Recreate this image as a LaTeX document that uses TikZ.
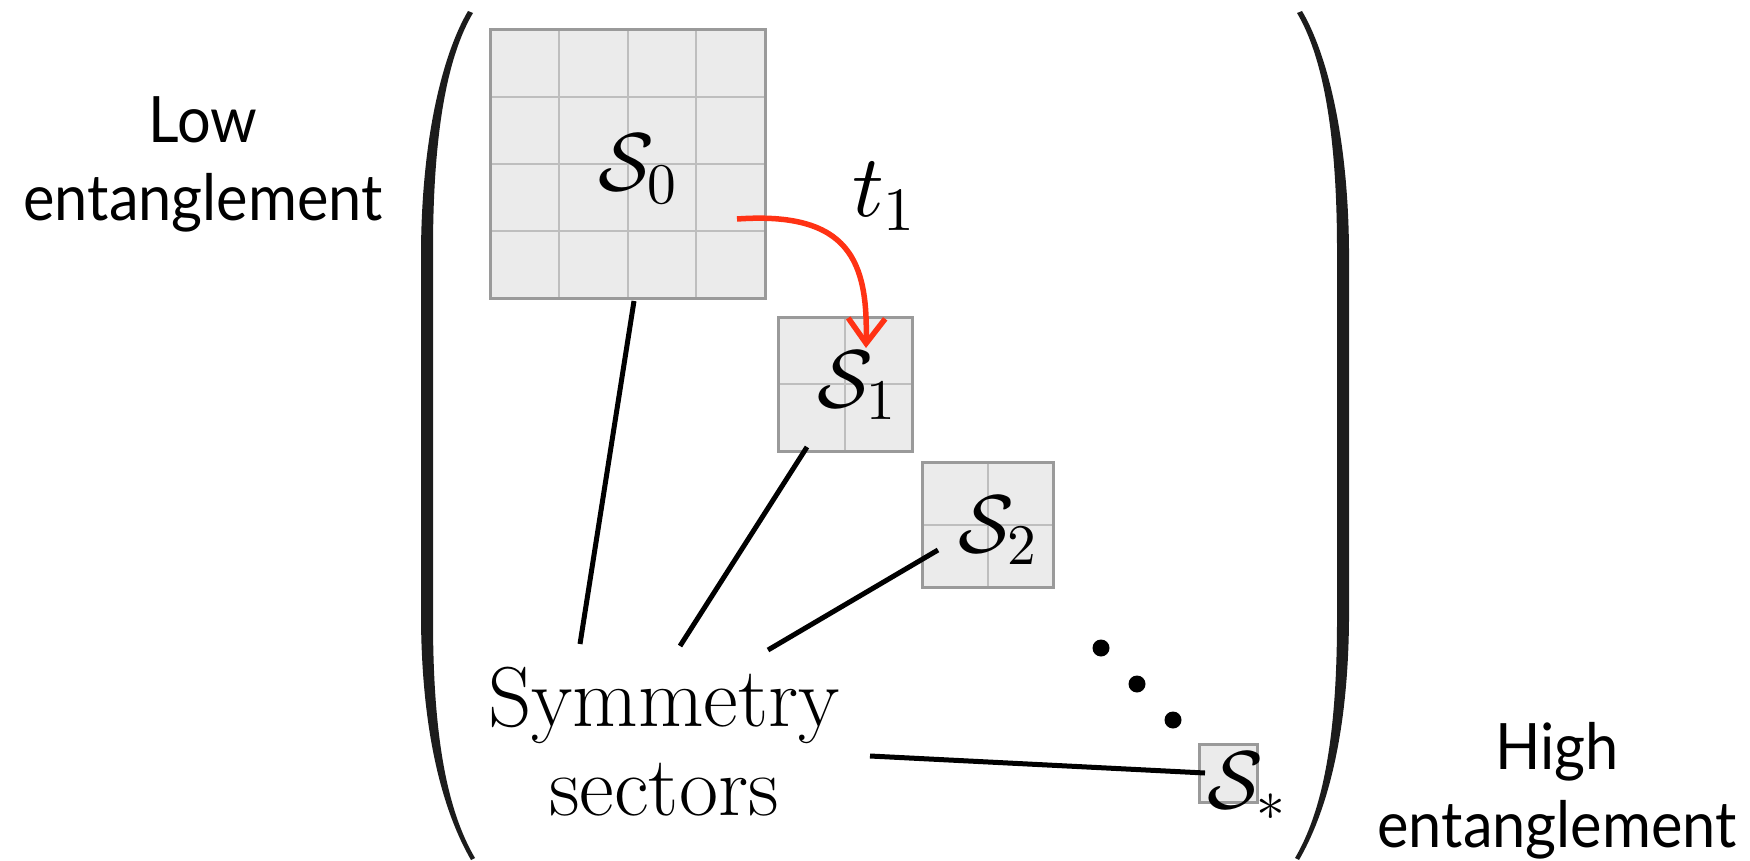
\documentclass[tikz,border=0pt]{standalone}
\usepackage{fontspec}
\DeclareFontFamily{OML}{cmm}{\skewchar\font'177}
\DeclareFontShape{OML}{cmm}{m}{it}{<->cmmi10}{}
\DeclareFontFamily{OMS}{cmsy}{\skewchar\font'60}
\DeclareFontShape{OMS}{cmsy}{m}{n}{<->cmsy10}{}
\DeclareFontFamily{OT1}{cmr}{\hyphenchar\font45}
\DeclareFontShape{OT1}{cmr}{m}{n}{<->cmr10}{}
\DeclareFontFamily{OMX}{cmex}{}
\DeclareFontShape{OMX}{cmex}{m}{n}{<->cmex10}{}
\newfontfamily\lato[FakeStretch=0.93]{Lato}
\usetikzlibrary{arrows.meta,calc}
\definecolor{boxfill}{HTML}{EBEBEB}
\definecolor{boxedge}{HTML}{9A9A9A}
\definecolor{gridc}{HTML}{BEBEBE}
\definecolor{arrowred}{HTML}{FF3214}
\definecolor{parcol}{HTML}{1C1C1C}
\begin{document}
\begin{tikzpicture}[x=1pt,y=-1pt,
  sector/.style={rectangle, fill=boxfill, inner sep=0pt, outer sep=0pt},
  edge/.style={draw=boxedge, line width=3pt},
  gridline/.style={draw=gridc, line width=2pt},
  conn/.style={line width=5pt, black},
  flow/.style={line width=5.5pt, arrowred, -{Straight Barb[length=25pt,width=37pt]}},
  mlbl/.style={inner sep=0pt, anchor=base west, font=\fontsize{82}{82}\selectfont},
  side/.style={align=center, inner sep=0pt, font=\lato\fontsize{64}{78}\selectfont},
  bigtext/.style={align=center, inner sep=0pt, font=\fontsize{85}{89}\selectfont},
  dotnode/.style={circle, fill=black, inner sep=0pt, minimum size=17pt},
  bracketpic/.pic={
    \fill[parcol] (468,11) .. controls (445,50) and (422,130) .. (421,250)
      -- (421,620) .. controls (422,740) and (445,815) .. (471,860)
      -- (475,858) .. controls (448,812) and (433,740) .. (433,620)
      -- (433,250) .. controls (433,130) and (448,55) .. (473,13) -- cycle;
  }]
\useasboundingbox (0,0) rectangle (1750,861);

% brackets
\pic (lbr) at (0,0) {bracketpic};
\pic[xscale=-1] (rbr) at (1770,0) {bracketpic};

% sector boxes
\node[sector, minimum width=275pt, minimum height=268pt] (b0) at (627.5,164) {};
\node[sector, minimum width=134pt, minimum height=134pt] (b1) at (845,384) {};
\node[sector, minimum width=131pt, minimum height=125pt] (b2) at (987.5,524.5) {};
\node[sector, minimum width=58pt, minimum height=58pt] (bs) at (1228,773) {};

\foreach \i in {1,2,3} {
  \draw[gridline] ($(b0.north west)!\i/4!(b0.north east)$) -- ($(b0.south west)!\i/4!(b0.south east)$);
  \draw[gridline] ($(b0.north west)!\i/4!(b0.south west)$) -- ($(b0.north east)!\i/4!(b0.south east)$);
}
\foreach \b in {b1,b2} {
  \draw[gridline] ($(\b.north west)!0.5!(\b.north east)$) -- ($(\b.south west)!0.5!(\b.south east)$);
  \draw[gridline] ($(\b.north west)!0.5!(\b.south west)$) -- ($(\b.north east)!0.5!(\b.south east)$);
}
\foreach \b in {b0,b1,b2,bs} \draw[edge] (\b.north west) rectangle (\b.south east);

% labels
\node[mlbl] (l0) at (598,191) {$\mathcal{S}_0$};
\node[mlbl] (l1) at (817,407) {$\mathcal{S}_1$};
\node[mlbl] (l2) at (958,552) {$\mathcal{S}_2$};
\node[mlbl] (ls) at (1207,808) {$\mathcal{S}_*$};
\node[mlbl, font=\fontsize{88}{88}\selectfont] (t1) at (852,217) {$t_1$};

% dots
\node[dotnode] (d1) at (1101,648) {};
\node[dotnode] (d2) at (1137,684) {};
\node[dotnode] (d3) at (1173,720) {};

% texts
\node[bigtext] (sym) at (664,742) {Symmetry\\sectors};
\node[side] (low) at (203,164) {Low\\entanglement};
\node[side] (high) at (1557,791) {High\\entanglement};

% connectors
\coordinate (c0a) at (634,301);
\coordinate (c0b) at (580,644);
\coordinate (c1a) at (807,447);
\coordinate (c1b) at (680,646);
\coordinate (c2a) at (938,550);
\coordinate (c2b) at (768,650);
\coordinate (c3a) at (1205,773);
\coordinate (c3b) at (870,756);
\draw[conn] (c0a) -- (c0b);
\draw[conn] (c1a) -- (c1b);
\draw[conn] (c2a) -- (c2b);
\draw[conn] (c3a) -- (c3b);

% red arrow
\coordinate (ra) at (737,219);
\coordinate (rb) at (866,348);
\draw[flow] (ra) .. controls (850,211) and (868,262) .. (rb);
\end{tikzpicture}
\end{document}
